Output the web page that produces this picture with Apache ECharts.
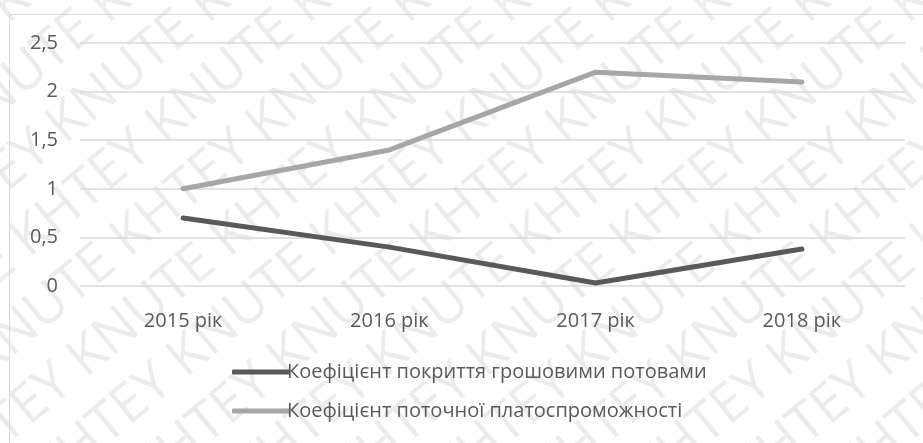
<!DOCTYPE html>
<html>
<head>
<meta charset="utf-8">
<script src="https://cdn.jsdelivr.net/npm/echarts@6/dist/echarts.min.js"></script>
<style>html,body{margin:0;padding:0;background:#fff}#c{width:923px;height:443px}</style>
</head>
<body>
<div id="c"></div>
<script>
var categories = ['2015 рік', '2016 рік', '2017 рік', '2018 рік'];
var seriesNames = ['Коефіцієнт покриття грошовими потовами', 'Коефіцієнт поточної платоспроможності'];
var coverageValues = [0.70, 0.40, 0.03, 0.38];
var solvencyValues = [1.00, 1.40, 2.20, 2.10];
var watermarkText = 'KNUTE KHTEY KNUTE KHTEY KNUTE KHTEY KNUTE KHTEY';

var font = '"Open Sans", "Noto Sans", sans-serif';
var chart = echarts.init(document.getElementById('c'), null, {renderer: 'canvas'});

var wm = [];
for (var i = -6; i < 10; i++) {
  wm.push({
    type: 'text', x: -220 + i * 100, y: 580, rotation: Math.PI * 40 / 180, silent: true, z: -10,
    style: {text: watermarkText, fill: 'rgba(0,0,0,0.08)', font: '54px ' + font}
  });
}
wm.push({type: 'rect', shape: {x: 9.5, y: 14.5, width: 940, height: 460}, style: {fill: 'none', stroke: '#d9d9d9', lineWidth: 1}, silent: true, z: -5});

chart.setOption({
  backgroundColor: '#fff',
  animation: false,
  graphic: wm,
  grid: {left: 80, right: 18, top: 43, bottom: 157, containLabel: false},
  legend: {
    orient: 'vertical', left: 232, top: 362, itemGap: 19, padding: 0,
    itemWidth: 58, itemHeight: 5, icon: 'roundRect',
    textStyle: {fontFamily: font, fontSize: 20, color: '#595959', padding: [0, 0, 0, -8]},
    data: seriesNames
  },
  xAxis: {
    type: 'category', data: categories, boundaryGap: true,
    axisLine: {show: false}, axisTick: {show: false},
    axisLabel: {fontFamily: font, fontSize: 20, color: '#595959', margin: 25}
  },
  yAxis: {
    type: 'value', min: 0, max: 2.5, interval: 0.5,
    axisLine: {show: false}, axisTick: {show: false},
    splitLine: {lineStyle: {color: '#d9d9d9', width: 1.5}},
    axisLabel: {fontFamily: font, fontSize: 20, color: '#595959', margin: 22,
      formatter: function (v) { return String(v).replace('.', ','); }}
  },
  series: [
    {name: seriesNames[0], type: 'line', data: coverageValues, symbol: 'none',
      lineStyle: {color: '#595959', width: 5, cap: 'round', join: 'round'}, itemStyle: {color: '#595959'}},
    {name: seriesNames[1], type: 'line', data: solvencyValues, symbol: 'none',
      lineStyle: {color: '#a6a6a6', width: 5, cap: 'round', join: 'round'}, itemStyle: {color: '#a6a6a6'}}
  ]
});
</script>
</body>
</html>
